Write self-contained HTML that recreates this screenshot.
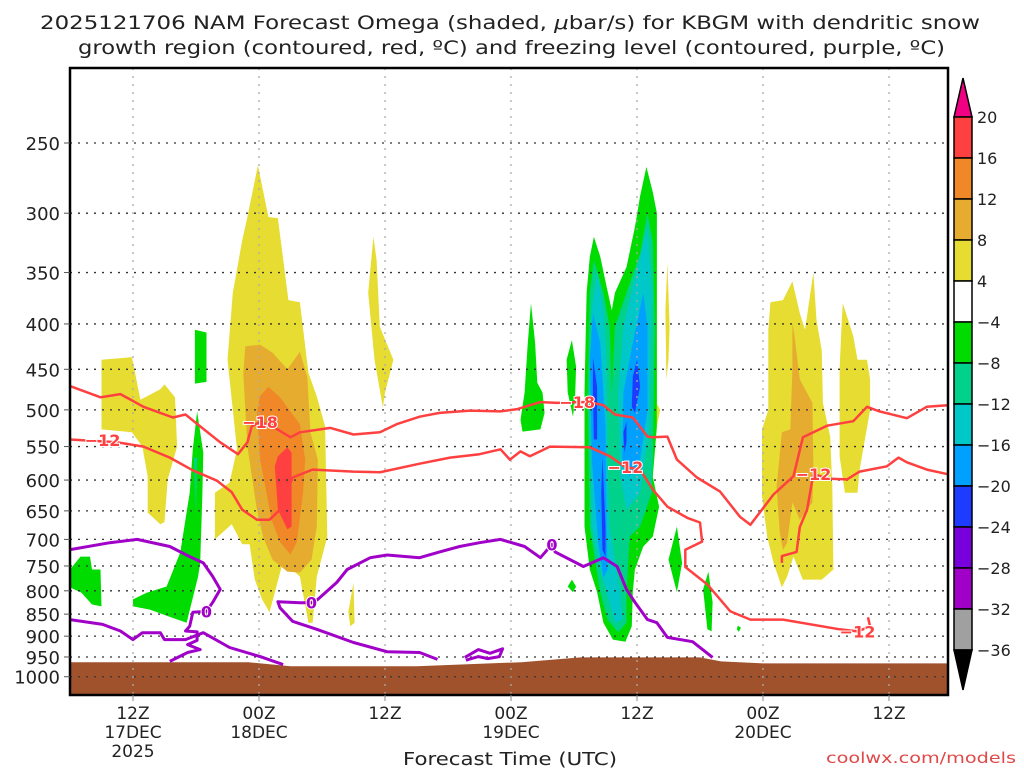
<!DOCTYPE html>
<html><head><meta charset="utf-8"><title>NAM Omega KBGM</title>
<style>
html,body{margin:0;padding:0;background:#fff;}
body{width:1024px;height:768px;overflow:hidden;position:relative;font-family:"DejaVu Sans","Liberation Sans",sans-serif;}
svg{position:absolute;left:0;top:0;}
text{font-family:"DejaVu Sans","Liberation Sans",sans-serif;fill:#222;}
</style></head>
<body>
<svg id="chart" width="1024" height="768" viewBox="0 0 1024 768">
  <text x="40" y="29" font-size="19" textLength="940" lengthAdjust="spacingAndGlyphs">2025121706 NAM Forecast Omega (shaded, <tspan font-style="italic">μ</tspan>bar/s) for KBGM with dendritic snow</text>
  <text x="78" y="54" font-size="19" textLength="867" lengthAdjust="spacingAndGlyphs">growth region (contoured, red, ºC) and freezing level (contoured, purple, ºC)</text>
  <g id="plot"></g>
  <g id="cbar"></g>
  <text x="403" y="765" font-size="18" textLength="214" lengthAdjust="spacingAndGlyphs">Forecast Time (UTC)</text>
  <text x="826" y="763" font-size="15" textLength="190" lengthAdjust="spacingAndGlyphs" style="fill:#e04848">coolwx.com/models</text>
</svg>
<script>
// ---- data ----
const pressureTicks=[250,300,350,400,450,500,550,600,650,700,750,800,850,900,950,1000];
const timeTickHours=[6,18,30,42,54,66,78];
const timeTickLabels=["12Z","00Z","12Z","00Z","12Z","00Z","12Z"];
const dateLabels=["17DEC","18DEC","","19DEC","","20DEC",""];
const yearLabels=["2025","","","","","",""];
const colorBarLevels=["20","16","12","8","4","\u22124","\u22128","\u221212","\u221216","\u221220","\u221224","\u221228","\u221232","\u221236"];
const terrainHours=[0,17,21,33,43,48.6,60,62,66,83.6];
const terrainPres=[963,963,973,973,963,951,951,961,966,966];
// shaded omega regions [hour, hPa]
const yellowPlume18=[[17.9,265],[18.9,303],[19.8,304],[20.8,376],[21.9,378],[22.7,454],[23.5,483],[24.3,522],[24.5,695],[23.5,771],[23.1,869],[22.7,869],[21.9,771],[20.3,741],[19,846],[18.3,818],[17.6,777],[17.1,709],[16.4,709],[15.4,673],[13.8,700],[13.8,620],[15.2,604],[15.9,554],[15,439],[15.5,369],[16.4,322],[16.9,303]];
const orange8Plume18=[[16.7,424],[18.1,422],[19.3,431],[20.7,450],[21.9,430],[22.6,459],[22.9,530],[23.6,569],[23.5,677],[23,738],[21.9,763],[20.7,761],[19.3,738],[18.4,696],[17.8,648],[16.9,550],[16.5,455]];
const orange12Plume18=[[18.9,471],[20,484],[21.9,519],[22.4,569],[22.2,620],[21.6,705],[21,728],[20,705],[19.2,665],[18.1,569],[17.8,504],[18.1,482]];
const red16Plume18=[[20.7,551],[21.1,559],[21.1,677],[20.7,682],[19.8,648],[19.5,579],[19.8,564]];
const yellowLeft=[[3,439],[5.9,436],[6.7,487],[8.6,474],[9,468],[10,484],[10.2,550],[9.3,599],[9,669],[8.6,673],[7.4,653],[7.4,595],[6.9,550],[5.9,530],[3,526]];
const yellowThin30=[[28.9,319],[29.2,339],[29.5,403],[30.8,439],[30,478],[29.8,497],[29,439],[28.4,369]];
const yellowSmall27=[[27,783],[27.1,869],[26.7,877],[26.5,846]];
const greenSmall12=[[11.9,406],[13,409],[13,465],[11.9,467]];
const greenDiag=[[12.1,502],[12.7,559],[12.6,627],[12.4,743],[12.2,771],[11.1,869],[9.5,856],[7.6,840],[6,833],[6,818],[7.3,804],[9.2,791],[10.5,724],[11.4,620],[11.7,554]];
const tealDiag=[[11.8,566],[12.1,566],[12,660]];
const greenLeftEdge=[[0,757],[1,732],[1.9,732],[2.1,757],[2.9,757],[3,833],[2.1,829],[1.1,804],[0,793]];
const greenPlume=[[49.9,319],[50.5,336],[51.1,363],[51.6,386],[51.9,369],[53,345],[53.8,311],[54.3,287],[54.9,266],[55.5,284],[55.9,300],[55.9,369],[55.9,522],[55.5,595],[56.1,643],[55.5,695],[54.6,713],[53.8,757],[53.6,803],[53.5,877],[52.9,913],[51.7,908],[50.8,869],[50.2,803],[49.5,757],[49,677],[49,478],[49.2,369],[49.5,336]];
const tealPlume=[[49.9,339],[50.8,369],[51.4,403],[51.6,478],[51.9,403],[53,369],[54.3,333],[55,300],[55.5,324],[55.7,403],[55.5,569],[55.4,620],[54.3,677],[53.3,695],[53,803],[53,869],[52.2,891],[51.2,862],[50.5,803],[50,738],[49.5,677],[49.3,478],[49.5,369]];
const cyanPlumeWest=[[50.2,350],[50.8,386],[51.1,439],[51.2,569],[51.4,677],[51.9,738],[52.4,803],[52.6,862],[51.9,869],[51.1,803],[50.5,757],[49.7,677],[49.5,478],[49.7,386]];
const cyanPlumeEast=[[53.6,363],[55,311],[55.4,369],[55.2,522],[54.3,620],[53,648],[52.4,595],[52.2,478],[52.7,403]];
const bluePlumeWest=[[49.8,389],[50.5,420],[51,522],[51.1,677],[51.2,757],[50.8,773],[50.3,705],[49.7,569],[49.5,439]];
const bluePlumeEast=[[54.6,369],[55,403],[55,500],[54.3,569],[53.3,595],[52.6,569],[52.7,478],[53.6,420]];
const darkBlueA=[[49.8,436],[50.2,471],[50.2,540],[49.9,540],[49.8,478]];
const darkBlueB=[[50.7,564],[51,677],[51,732],[50.7,719],[50.6,620]];
const darkBlueC=[[54,439],[54.3,471],[53.8,504],[53.5,496],[53.6,459]];
const darkBlueD=[[53,516],[53,544],[52.8,559],[52.7,530]];
const greenL=[[43.9,379],[44.3,420],[44.5,466],[45,478],[45.2,504],[44.8,526],[43.1,529],[42.9,513],[43.3,478],[43.6,420]];
const greenM=[[47.8,417],[48.2,447],[48.1,487],[47.9,509],[47.4,478],[47.3,439]];
const greenN=[[47.8,777],[48.2,791],[47.9,803],[47.4,791]];
const yellowO=[[56.9,341],[57.1,403],[57,439],[56.8,462],[56.7,386]];
const yellowO2=[[55.9,492],[56.2,500],[55.9,522]];
const greenP=[[57.8,677],[58.3,744],[57.8,803],[57,738]];
const greenQ=[[60.8,761],[61.2,824],[61.1,889],[60.7,884],[60.3,797]];
const greenDot=[[63.6,876],[63.9,880],[63.7,890],[63.5,884]];
const yellowR=[[66.7,378],[67.9,376],[68.8,358],[69.5,389],[70,406],[70.8,350],[71.1,396],[71.6,429],[71.7,491],[72.4,536],[72.6,610],[72.7,757],[71.6,777],[69.8,777],[68.9,732],[68.3,771],[67.8,793],[67,744],[66.4,695],[65.9,625],[65.9,526],[66.5,500],[66.5,406]];
const orangeR=[[68.8,399],[69,413],[69.5,462],[70.7,491],[70.8,584],[70.7,636],[69.5,665],[68.8,636],[68.3,706],[67.9,719],[67.6,688],[67.3,610],[67.8,530],[68.6,526],[68.8,450]];
const yellowS=[[73.6,379],[74.6,413],[75,439],[75.9,439],[76.2,462],[76.2,500],[75.2,584],[75,620],[73.8,620],[73.3,564],[73.3,450],[73.5,396]];
// temperature contours [hour, hPa]
const minus18Line=[[0,470],[2.9,484],[4.8,480],[7,496],[9.8,510],[11,506],[12.4,522],[14.3,544],[16,561],[16.9,544],[17.3,522],[18.1,516],[19.3,522],[21,537],[21.9,530],[24.8,524],[27,533],[29.5,530],[31.1,519],[33.3,509],[35.2,504],[38.1,501],[41,502],[42.6,499],[44.8,490],[46.4,491],[48.3,490],[49.5,490],[50.8,494],[51.9,506],[53.6,510],[55,536],[55.5,537],[56.9,536],[57.8,569],[59.7,596],[61.9,618],[63.8,660],[64.8,674],[67,623],[68.9,594],[69.8,537],[72.1,521],[74.6,515],[75.9,496],[77.1,502],[79.7,511],[81.6,496],[83.6,494]];
const minus12Line=[[0,540],[4.5,544],[7,550],[9.5,566],[11.7,585],[14,601],[15.4,619],[16.4,648],[17.8,665],[19,665],[20,648],[21.2,596],[23.1,584],[27,587],[29.5,588],[33.3,575],[36.2,566],[39,561],[41,554],[41.9,569],[42.9,557],[43.8,564],[45.7,550],[49.5,551],[51.4,564],[52.9,580],[54.3,584],[55.5,615],[56.9,643],[58.8,662],[60,670],[60.2,704],[58.6,719],[58.6,752],[60.7,787],[62.9,844],[64.8,862],[67.9,862],[73.3,884],[75,889],[76.2,878],[76,857]];
const minus12East=[[67.8,744],[67.8,731],[69.2,723],[69.5,678],[70.2,648],[70.7,599],[70.8,591],[72.4,598],[74,599],[75.2,587],[77.8,579],[78.9,566],[79.7,573],[81.6,584],[83.6,591]];
const freezeLineA=[[0,719],[3.8,706],[6.4,700],[9.5,713],[11.4,732],[12.7,744],[13.6,771],[14.3,797],[13.6,824],[13,844],[11.7,846],[11.4,877],[11,888],[12.1,890],[12.1,910],[11.2,920],[12.4,932],[11.2,939],[9.5,961]];
const freezeLineB=[[0,862],[3.1,873],[4.8,888],[6,908],[6.9,892],[8.6,892],[9,908],[11,908],[12.7,892],[15.2,927],[18.1,949],[20.3,969]];
const freezeLineC=[[35,956],[33.3,939],[30.2,937],[27,915],[23.5,884],[21.2,866],[20,836],[19.8,823],[21.9,825],[23,825],[23.6,818],[25.4,783],[26.4,757],[28.6,734],[30.2,729],[33.3,734],[35.2,723],[37.1,713],[39,706],[41,700],[43.3,713],[44.8,734],[45.9,709],[46.2,723],[48.9,751],[50.8,734],[52.1,751],[53,797],[53.8,824],[55,862],[55.9,869],[56.9,903],[59.3,913],[61.2,951]];
const freezeSquiggle=[[37.6,951],[38.9,932],[40,941],[41.2,930],[40.9,949],[39.8,954],[38.9,949],[37.7,958]];
const tempLabelText=["\u221218","\u221218","\u221212","\u221212","\u221212","\u221212"];
const tempLabelPos=[[18.1,516],[48.3,490],[3.1,541],[52.9,580],[75,889],[70.8,591]];
const freezeLabelText=["0","0","0"];
const freezeLabelPos=[[13,844],[23,825],[45.9,709]];

// ---- scales ----
const X0=70,X1=948,Y0=68,Y1=695;
function xs(h){return X0+h*10.5;}
function ys(p){return 143+385*Math.log(p/250);}
const NS="http://www.w3.org/2000/svg";
function mk(tag,attrs,parent){const e=document.createElementNS(NS,tag);for(const k in attrs)e.setAttribute(k,attrs[k]);parent.appendChild(e);return e;}
const plot=document.getElementById('plot');
const cbar=document.getElementById('cbar');
const cp=mk('clipPath',{id:'pc'},plot);
mk('rect',{x:X0,y:Y0,width:X1-X0,height:Y1-Y0},cp);
const g=mk('g',{'clip-path':'url(#pc)'},plot);


function ptsStr(arr){return arr.map(d=>xs(d[0]).toFixed(1)+','+ys(d[1]).toFixed(1)).join(' ');}

// shading
const shadeLayers=[
 [yellowPlume18,'#e6dc32','yellow-plume-18dec'],[orange8Plume18,'#e6ac30','orange-8-plume-18dec'],[orange12Plume18,'#f08828','orange-12-plume-18dec'],[red16Plume18,'#ff4040','red-16-plume-18dec'],
 [yellowLeft,'#e6dc32','yellow-left-region'],[yellowThin30,'#e6dc32','yellow-thin-region'],[yellowSmall27,'#e6dc32','yellow-small-region'],
 [greenSmall12,'#00dc00','green-small-region'],[greenDiag,'#00dc00','green-diagonal-region'],[tealDiag,'#00d28c','teal-diagonal-region'],[greenLeftEdge,'#00dc00','green-left-edge-region'],
 [greenPlume,'#00dc00','green-plume-19dec'],[tealPlume,'#00d28c','teal-plume-19dec'],[cyanPlumeWest,'#00c8c8','cyan-plume-west'],[cyanPlumeEast,'#00c8c8','cyan-plume-east'],
 [bluePlumeWest,'#00a0ff','blue-plume-west'],[bluePlumeEast,'#00a0ff','blue-plume-east'],[darkBlueA,'#1e3cff','darkblue-core-a'],[darkBlueB,'#1e3cff','darkblue-core-b'],[darkBlueC,'#1e3cff','darkblue-core-c'],[darkBlueD,'#1e3cff','darkblue-core-d'],
 [greenL,'#00dc00','green-region-l'],[greenM,'#00dc00','green-region-m'],[greenN,'#00dc00','green-region-n'],[yellowO,'#e6dc32','yellow-region-o'],[yellowO2,'#e6dc32','yellow-region-o2'],
 [greenP,'#00dc00','green-region-p'],[greenQ,'#00dc00','green-region-q'],[greenDot,'#00dc00','green-dot'],
 [yellowR,'#e6dc32','yellow-plume-20dec'],[orangeR,'#e6ac30','orange-plume-20dec'],[yellowS,'#e6dc32','yellow-region-s']
];
for(const L of shadeLayers){
  const el=mk('polygon',{points:ptsStr(L[0]),fill:L[1]},g);
  
  
}
// terrain
{
  let d='M'+xs(terrainHours[0])+','+(Y1+5);
  for(let i=0;i<terrainHours.length;i++){d+=' L'+xs(terrainHours[i]).toFixed(1)+','+ys(terrainPres[i]).toFixed(1);}
  d+=' L'+(X1+5)+','+ys(terrainPres[terrainPres.length-1]).toFixed(1)+' L'+(X1+5)+','+(Y1+5)+' Z';
  const t=mk('path',{d:d,fill:'#a0522d'},g);
  
  
}
// grid
for(const p of pressureTicks){
  const l=mk('line',{x1:X0,x2:X1,y1:ys(p),y2:ys(p),stroke:'#333','stroke-width':1.3,'stroke-dasharray':'2,6'},g);
  
  
}
for(const h of timeTickHours){
  const l=mk('line',{x1:xs(h),x2:xs(h),y1:Y0,y2:Y1,stroke:'#aaa','stroke-width':1.3,'stroke-dasharray':'2,6'},g);
  
  
}
// contours
const lineLayers=[[minus18Line,'#ff4040',2.5,'contour-minus18'],[minus12Line,'#ff4040',2.5,'contour-minus12'],[minus12East,'#ff4040',2.5,'contour-minus12-east'],
 [freezeLineA,'#a000c8',3,'freezing-contour-a'],[freezeLineB,'#a000c8',3,'freezing-contour-b'],[freezeLineC,'#a000c8',3,'freezing-contour-c'],[freezeSquiggle,'#a000c8',3,'freezing-contour-squiggle']];
for(const L of lineLayers){
  const el=mk('polyline',{points:ptsStr(L[0]),fill:'none',stroke:L[1],'stroke-width':L[2],'stroke-linejoin':'round'},g);
  
  
}
for(let i=0;i<tempLabelText.length;i++){
  const t=mk('text',{x:xs(tempLabelPos[i][0]),y:ys(tempLabelPos[i][1])+6,'text-anchor':'middle','font-size':16,'font-weight':'bold',style:'fill:#ff4040;stroke:#fff;stroke-width:2;paint-order:stroke'},g);
  t.textContent=tempLabelText[i];
  
  
}
for(let i=0;i<freezeLabelText.length;i++){
  const t=mk('text',{x:xs(freezeLabelPos[i][0]),y:ys(freezeLabelPos[i][1])+6,'text-anchor':'middle','font-size':16,'font-weight':'bold',style:'fill:#a000c8;stroke:#fff;stroke-width:2;paint-order:stroke'},g);
  t.textContent=freezeLabelText[i];
  
  
}
// frame
{const f=mk('rect',{x:X0,y:Y0,width:X1-X0,height:Y1-Y0,fill:'none',stroke:'#000','stroke-width':2.5},plot);

}
// y ticks
for(const p of pressureTicks){
  const tk=mk('line',{x1:X0-6,x2:X0,y1:ys(p),y2:ys(p),stroke:'#555','stroke-width':1},plot);
  
  
  const t=mk('text',{x:X0-10,y:ys(p)+7,'text-anchor':'end','font-size':18},plot);
  t.textContent=p;
  
  
}
// x ticks
for(let i=0;i<timeTickHours.length;i++){
  const x=xs(timeTickHours[i]);
  const tk=mk('line',{x1:x,x2:x,y1:Y1,y2:Y1+6,stroke:'#888','stroke-width':1},plot);
  
  
  const lines=[timeTickLabels[i],dateLabels[i],yearLabels[i]];
  for(let j=0;j<3;j++){ if(!lines[j])continue;
    const t=mk('text',{x:x,y:719+j*19,'text-anchor':'middle','font-size':17},plot);
    t.textContent=lines[j];
    
    
  }
}
// color bar
const cbColors=['#ff4040','#f08828','#e6ac30','#e6dc32','#ffffff','#00dc00','#00d28c','#00c8c8','#00a0ff','#1e3cff','#7800dc','#a000c8','#a0a0a0'];
const CBX=954,CBW=18,CBT=117,CBH=41;
{const tri=mk('polygon',{points:CBX+','+CBT+' '+(CBX+CBW)+','+CBT+' '+(CBX+CBW/2)+',78',fill:'#f00082',stroke:'#000','stroke-width':1.5},cbar);

}
for(let i=0;i<cbColors.length;i++){
  const r=mk('rect',{x:CBX,y:CBT+i*CBH,width:CBW,height:CBH,fill:cbColors[i],stroke:'#000','stroke-width':1.5},cbar);
  
  
}
{const bot=CBT+cbColors.length*CBH;
const tri=mk('polygon',{points:CBX+','+bot+' '+(CBX+CBW)+','+bot+' '+(CBX+CBW/2)+',690',fill:'#000',stroke:'#000','stroke-width':1.5},cbar);

}
for(let i=0;i<colorBarLevels.length;i++){
  const t=mk('text',{x:977,y:CBT+i*CBH+6,'font-size':16},cbar);
  t.textContent=colorBarLevels[i];
  
  
}
</script>
</body></html>
